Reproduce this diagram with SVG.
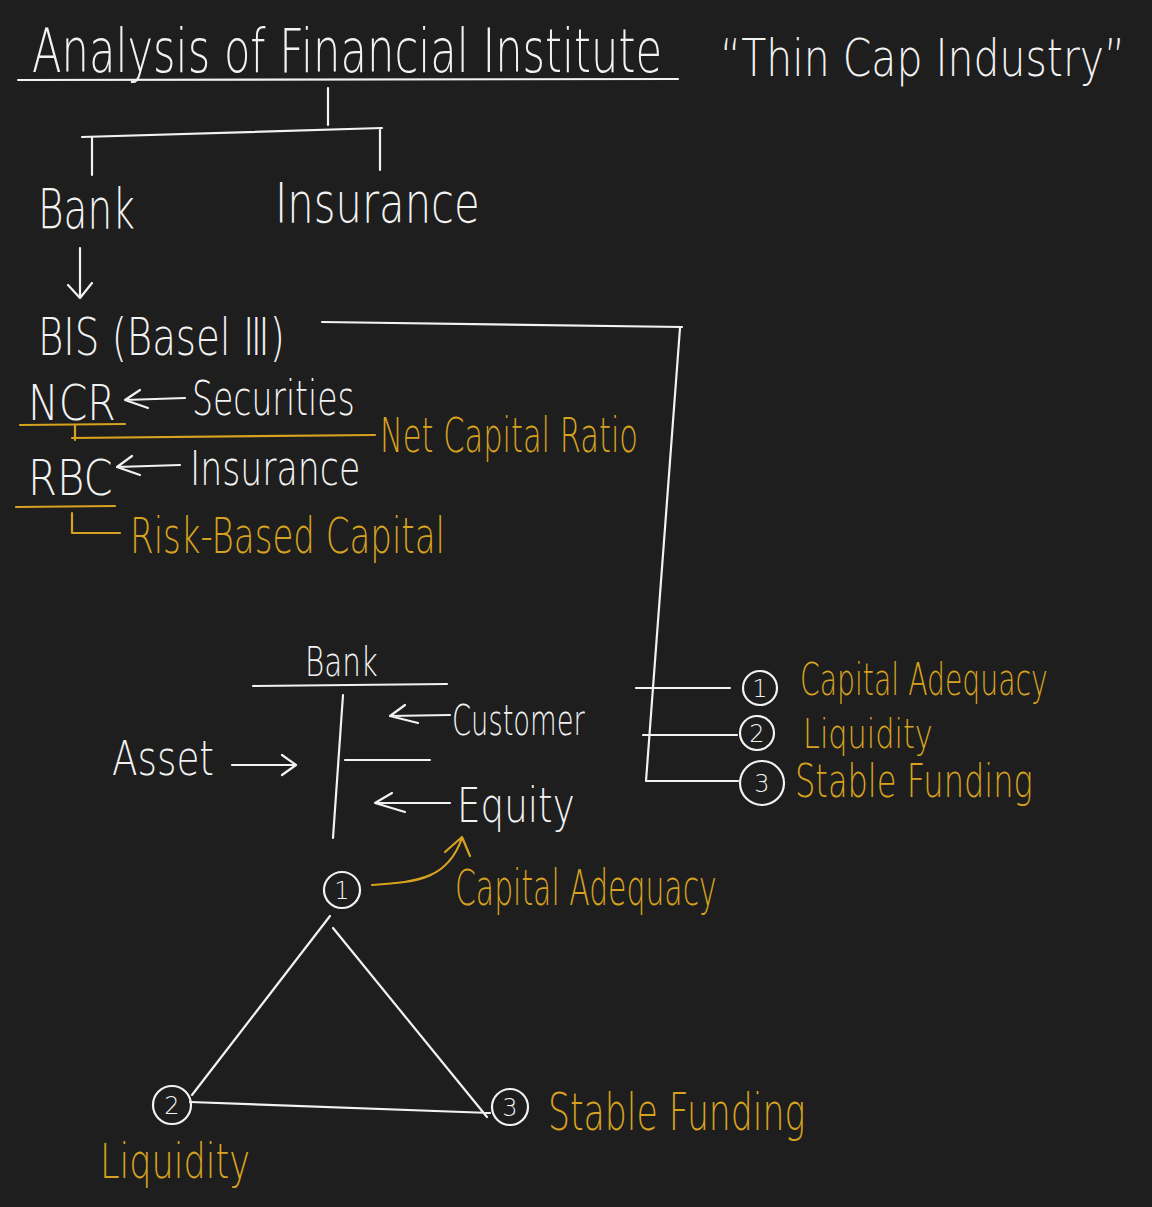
<svg xmlns="http://www.w3.org/2000/svg" width="1152" height="1207" viewBox="0 0 1152 1207">
<style>
text{font-family:"DejaVu Sans","Liberation Sans",sans-serif;font-weight:200}
.w{fill:#f2f2f2}
.o{fill:#d7a21f}
.lw{stroke:#f2f2f2;stroke-width:2.2;fill:none;stroke-linecap:round;stroke-linejoin:round}
.lo{stroke:#d7a21f;stroke-width:2.2;fill:none;stroke-linecap:round;stroke-linejoin:round}
.n{font-size:24px;text-anchor:middle}
</style>
<rect width="1152" height="1207" fill="#1e1e1e"/>
<g id="title">
<text class="w" transform="translate(32,72) scale(.75,1)" font-size="60" textLength="840" lengthAdjust="spacingAndGlyphs">Analysis of Financial Institute</text>
<text class="w" transform="translate(720,76) scale(.7,1)" font-size="52" textLength="579" lengthAdjust="spacingAndGlyphs">“Thin Cap Industry”</text>
</g>
<g id="bank"><text class="w" transform="translate(38,228) scale(.75,1)" font-size="55" textLength="129" lengthAdjust="spacingAndGlyphs">Bank</text></g>
<g id="insurance"><text class="w" transform="translate(275,222) scale(.75,1)" font-size="55" textLength="273" lengthAdjust="spacingAndGlyphs">Insurance</text></g>
<g id="bis"><text class="w" transform="translate(38,355) scale(.75,1)" font-size="52" textLength="329" lengthAdjust="spacingAndGlyphs">BIS (Basel Ⅲ)</text></g>
<g id="ncr">
<text class="w" transform="translate(28,420) scale(.75,1)" font-size="50" textLength="117" lengthAdjust="spacingAndGlyphs">NCR</text>
<text class="w" transform="translate(192,415) scale(.75,1)" font-size="48" textLength="217" lengthAdjust="spacingAndGlyphs">Securities</text>
<text class="o" transform="translate(380,452) scale(.75,1)" font-size="48" textLength="344" lengthAdjust="spacingAndGlyphs">Net Capital Ratio</text>
</g>
<g id="rbc">
<text class="w" transform="translate(28,495) scale(.75,1)" font-size="50" textLength="113" lengthAdjust="spacingAndGlyphs">RBC</text>
<text class="w" transform="translate(190,485) scale(.75,1)" font-size="48" textLength="227" lengthAdjust="spacingAndGlyphs">Insurance</text>
<text class="o" transform="translate(130,553) scale(.75,1)" font-size="50" textLength="420" lengthAdjust="spacingAndGlyphs">Risk-Based Capital</text>
</g>
<g id="bank-account">
<text class="w" transform="translate(305,676) scale(.75,1)" font-size="40" textLength="97" lengthAdjust="spacingAndGlyphs">Bank</text>
<text class="w" transform="translate(452,735) scale(.75,1)" font-size="42" textLength="177" lengthAdjust="spacingAndGlyphs">Customer</text>
<text class="w" transform="translate(112,775) scale(.75,1)" font-size="48" textLength="136" lengthAdjust="spacingAndGlyphs">Asset</text>
<text class="w" transform="translate(457,822) scale(.75,1)" font-size="48" textLength="157" lengthAdjust="spacingAndGlyphs">Equity</text>
<text class="o" transform="translate(455,905) scale(.75,1)" font-size="50" textLength="349" lengthAdjust="spacingAndGlyphs">Capital Adequacy</text>
</g>
<g id="list">
<circle class="lw" cx="760" cy="688" r="17"/><text class="w n" x="760" y="697">1</text>
<circle class="lw" cx="757" cy="733" r="17"/><text class="w n" x="757" y="742">2</text>
<circle class="lw" cx="762" cy="783" r="22"/><text class="w n" x="762" y="792">3</text>
<text class="o" transform="translate(800,695) scale(.7,1)" font-size="44" textLength="354" lengthAdjust="spacingAndGlyphs">Capital Adequacy</text>
<text class="o" transform="translate(803,748) scale(.75,1)" font-size="40" textLength="173" lengthAdjust="spacingAndGlyphs">Liquidity</text>
<text class="o" transform="translate(795,797) scale(.75,1)" font-size="46" textLength="317" lengthAdjust="spacingAndGlyphs">Stable Funding</text>
</g>
<g id="triangle">
<circle class="lw" cx="342" cy="890" r="18"/><text class="w n" x="342" y="899">1</text>
<circle class="lw" cx="172" cy="1105" r="19"/><text class="w n" x="172" y="1114">2</text>
<circle class="lw" cx="510" cy="1107" r="18"/><text class="w n" x="510" y="1116">3</text>
<text class="o" transform="translate(548,1130) scale(.75,1)" font-size="52" textLength="343" lengthAdjust="spacingAndGlyphs">Stable Funding</text>
<text class="o" transform="translate(100,1178) scale(.75,1)" font-size="48" textLength="200" lengthAdjust="spacingAndGlyphs">Liquidity</text>
</g>
<g id="connectors">
<path class="lw" d="M18,80 L678,79"/>
<path class="lw" d="M328,88 L328,125 M82,137 L382,128 M92,137 L92,175 M380,128 L380,170"/>
<path class="lw" d="M80,248 L80,298 M68,285 L80,298 L92,283"/>
<path class="lw" d="M322,322 L682,327 M680,328 L646,781 M636,688 L730,688 M643,735 L737,735 M646,781 L738,781"/>
<path class="lw" d="M185,398 L125,400 M140,390 L125,400 L148,408"/>
<path class="lw" d="M180,465 L117,467 M132,456 L117,467 L140,475"/>
<path class="lo" d="M20,425 L125,424 M75,426 L75,440 M72,438 L375,435 M16,507 L115,506 M72,513 L72,533 L120,533"/>
<path class="lw" d="M253,686 L447,684 M343,695 L333,838 M345,760 L430,760"/>
<path class="lw" d="M450,715 L390,716 M405,705 L390,716 L418,723"/>
<path class="lw" d="M232,765 L296,765 M282,755 L296,765 L282,775"/>
<path class="lw" d="M450,803 L375,803 M392,793 L375,803 L405,812"/>
<path class="lo" d="M372,885 C420,882 448,878 462,838 M445,852 L462,837 L470,856"/>
<path class="lw" d="M330,916 L192,1095 M333,928 L487,1117 M190,1102 L490,1113"/>
</g>
</svg>
